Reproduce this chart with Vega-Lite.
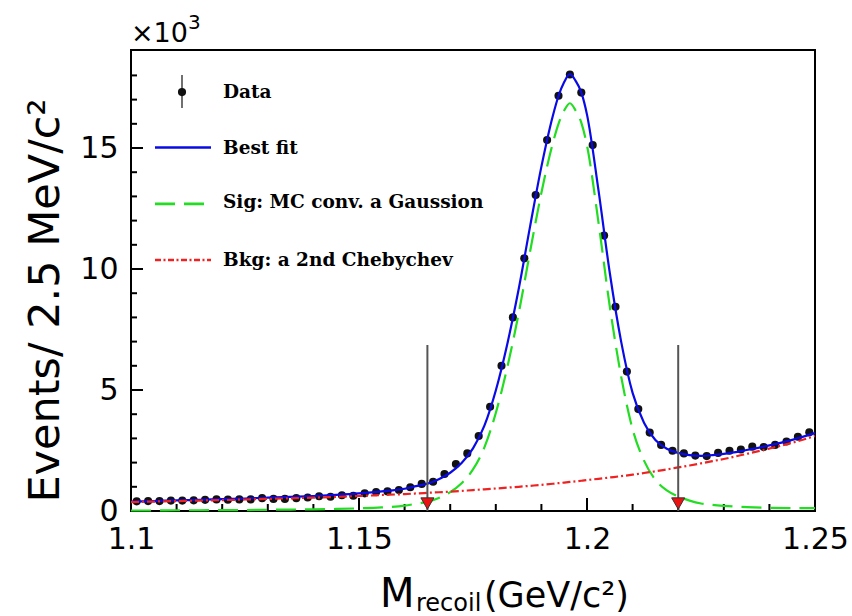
{
  "$schema": "https://vega.github.io/schema/vega-lite/v6.json",
  "width": 684,
  "height": 461,
  "autosize": "none",
  "padding": {"left": 131, "top": 50, "right": 37, "bottom": 105},
  "background": "white",
  "config": {
    "view": {"stroke": "black", "strokeWidth": 2},
    "axis": {"grid": false, "labelOverlap": false, "labelColor": "black", "labelFont": "DejaVu Sans", "titleFont": "DejaVu Sans", "titleColor": "black"}
  },
  "datasets": {
    "points": [
      {"m": 1.10125, "n": 0.40}, {"m": 1.10375, "n": 0.41}, {"m": 1.10625, "n": 0.41}, {"m": 1.10875, "n": 0.43},
      {"m": 1.11125, "n": 0.43}, {"m": 1.11375, "n": 0.44}, {"m": 1.11625, "n": 0.46}, {"m": 1.11875, "n": 0.48},
      {"m": 1.12125, "n": 0.47}, {"m": 1.12375, "n": 0.48}, {"m": 1.12625, "n": 0.48}, {"m": 1.12875, "n": 0.53},
      {"m": 1.13125, "n": 0.50}, {"m": 1.13375, "n": 0.50}, {"m": 1.13625, "n": 0.53}, {"m": 1.13875, "n": 0.56},
      {"m": 1.14125, "n": 0.61}, {"m": 1.14375, "n": 0.59}, {"m": 1.14625, "n": 0.65}, {"m": 1.14875, "n": 0.63},
      {"m": 1.15125, "n": 0.73}, {"m": 1.15375, "n": 0.78}, {"m": 1.15625, "n": 0.81}, {"m": 1.15875, "n": 0.87},
      {"m": 1.16125, "n": 0.98}, {"m": 1.16375, "n": 1.12}, {"m": 1.16625, "n": 1.21}, {"m": 1.16875, "n": 1.53},
      {"m": 1.17125, "n": 1.94}, {"m": 1.17375, "n": 2.38}, {"m": 1.17625, "n": 3.10}, {"m": 1.17875, "n": 4.31},
      {"m": 1.18125, "n": 6.00}, {"m": 1.18375, "n": 8.00}, {"m": 1.18625, "n": 10.44}, {"m": 1.18875, "n": 13.06},
      {"m": 1.19125, "n": 15.33}, {"m": 1.19375, "n": 17.16}, {"m": 1.19625, "n": 18.04}, {"m": 1.19875, "n": 17.29},
      {"m": 1.20125, "n": 15.12}, {"m": 1.20375, "n": 11.38}, {"m": 1.20625, "n": 8.44}, {"m": 1.20875, "n": 5.76},
      {"m": 1.21125, "n": 4.21}, {"m": 1.21375, "n": 3.24}, {"m": 1.21625, "n": 2.73}, {"m": 1.21875, "n": 2.49},
      {"m": 1.22125, "n": 2.38}, {"m": 1.22375, "n": 2.29}, {"m": 1.22625, "n": 2.27}, {"m": 1.22875, "n": 2.40},
      {"m": 1.23125, "n": 2.49}, {"m": 1.23375, "n": 2.54}, {"m": 1.23625, "n": 2.66}, {"m": 1.23875, "n": 2.64},
      {"m": 1.24125, "n": 2.73}, {"m": 1.24375, "n": 2.87}, {"m": 1.24625, "n": 3.07}, {"m": 1.24875, "n": 3.25}
    ],
    "curves": [
      {"m": 1.100, "fit": 0.39, "sig": 0.02, "bkg": 0.37},
      {"m": 1.105, "fit": 0.41, "sig": 0.02, "bkg": 0.39},
      {"m": 1.110, "fit": 0.44, "sig": 0.03, "bkg": 0.41},
      {"m": 1.115, "fit": 0.46, "sig": 0.03, "bkg": 0.43},
      {"m": 1.120, "fit": 0.49, "sig": 0.04, "bkg": 0.45},
      {"m": 1.125, "fit": 0.515, "sig": 0.04, "bkg": 0.475},
      {"m": 1.130, "fit": 0.55, "sig": 0.05, "bkg": 0.50},
      {"m": 1.135, "fit": 0.585, "sig": 0.06, "bkg": 0.525},
      {"m": 1.140, "fit": 0.62, "sig": 0.07, "bkg": 0.55},
      {"m": 1.145, "fit": 0.67, "sig": 0.085, "bkg": 0.585},
      {"m": 1.150, "fit": 0.73, "sig": 0.11, "bkg": 0.62},
      {"m": 1.155, "fit": 0.81, "sig": 0.15, "bkg": 0.66},
      {"m": 1.160, "fit": 0.92, "sig": 0.22, "bkg": 0.70},
      {"m": 1.1625, "fit": 1.025, "sig": 0.30, "bkg": 0.725},
      {"m": 1.165, "fit": 1.13, "sig": 0.38, "bkg": 0.75},
      {"m": 1.1675, "fit": 1.315, "sig": 0.54, "bkg": 0.775},
      {"m": 1.170, "fit": 1.58, "sig": 0.78, "bkg": 0.80},
      {"m": 1.1725, "fit": 1.98, "sig": 1.15, "bkg": 0.83},
      {"m": 1.175, "fit": 2.585, "sig": 1.72, "bkg": 0.865},
      {"m": 1.1775, "fit": 3.525, "sig": 2.63, "bkg": 0.895},
      {"m": 1.180, "fit": 4.98, "sig": 4.05, "bkg": 0.93},
      {"m": 1.1825, "fit": 6.885, "sig": 5.92, "bkg": 0.965},
      {"m": 1.185, "fit": 9.15, "sig": 8.15, "bkg": 1.00},
      {"m": 1.1875, "fit": 11.74, "sig": 10.7, "bkg": 1.04},
      {"m": 1.190, "fit": 14.23, "sig": 13.15, "bkg": 1.08},
      {"m": 1.1925, "fit": 16.325, "sig": 15.2, "bkg": 1.125},
      {"m": 1.19375, "fit": 17.15, "sig": 16.0, "bkg": 1.15},
      {"m": 1.195, "fit": 17.725, "sig": 16.55, "bkg": 1.175},
      {"m": 1.19625, "fit": 18.05, "sig": 16.85, "bkg": 1.20},
      {"m": 1.1975, "fit": 17.775, "sig": 16.55, "bkg": 1.225},
      {"m": 1.19875, "fit": 17.30, "sig": 16.05, "bkg": 1.25},
      {"m": 1.200, "fit": 16.38, "sig": 15.1, "bkg": 1.28},
      {"m": 1.2025, "fit": 13.28, "sig": 11.95, "bkg": 1.33},
      {"m": 1.205, "fit": 9.835, "sig": 8.45, "bkg": 1.385},
      {"m": 1.2075, "fit": 6.99, "sig": 5.55, "bkg": 1.44},
      {"m": 1.210, "fit": 4.88, "sig": 3.38, "bkg": 1.50},
      {"m": 1.2125, "fit": 3.65, "sig": 2.08, "bkg": 1.57},
      {"m": 1.215, "fit": 2.93, "sig": 1.29, "bkg": 1.64},
      {"m": 1.2175, "fit": 2.57, "sig": 0.85, "bkg": 1.72},
      {"m": 1.220, "fit": 2.40, "sig": 0.60, "bkg": 1.80},
      {"m": 1.2225, "fit": 2.31, "sig": 0.43, "bkg": 1.88},
      {"m": 1.225, "fit": 2.28, "sig": 0.31, "bkg": 1.97},
      {"m": 1.2275, "fit": 2.31, "sig": 0.25, "bkg": 2.06},
      {"m": 1.230, "fit": 2.36, "sig": 0.21, "bkg": 2.15},
      {"m": 1.235, "fit": 2.52, "sig": 0.16, "bkg": 2.36},
      {"m": 1.240, "fit": 2.71, "sig": 0.13, "bkg": 2.58},
      {"m": 1.245, "fit": 2.94, "sig": 0.12, "bkg": 2.82},
      {"m": 1.250, "fit": 3.22, "sig": 0.12, "bkg": 3.10}
    ],
    "cuts": [{"m": 1.165}, {"m": 1.22}],
    "xmajor": [{"t": 1.15}, {"t": 1.2}],
    "xminor": [{"t": 1.11}, {"t": 1.12}, {"t": 1.13}, {"t": 1.14}, {"t": 1.16}, {"t": 1.17}, {"t": 1.18}, {"t": 1.19}, {"t": 1.21}, {"t": 1.22}, {"t": 1.23}, {"t": 1.24}],
    "ymajor": [{"t": 5}, {"t": 10}, {"t": 15}],
    "yminor": [{"t": 1}, {"t": 2}, {"t": 3}, {"t": 4}, {"t": 6}, {"t": 7}, {"t": 8}, {"t": 9}, {"t": 11}, {"t": 12}, {"t": 13}, {"t": 14}, {"t": 16}, {"t": 17}, {"t": 18}],
    "one": [{}]
  },
  "layer": [
    {
      "description": "data points, carrying the labelled axes",
      "data": {"name": "points"},
      "mark": {"type": "point", "shape": "circle", "filled": true, "color": "#111111", "size": 66, "opacity": 1},
      "encoding": {
        "x": {"field": "m", "type": "quantitative",
              "scale": {"domain": [1.1, 1.25], "nice": false, "zero": false},
              "axis": {
                "orient": "bottom", "values": [1.1, 1.15, 1.2, 1.25], "format": "~g",
                "ticks": false, "labelFontSize": 30, "labelPadding": 13, "labelFlush": false, "labelOverlap": false,
                "domain": false, "title": null}},
        "y": {"field": "n", "type": "quantitative",
              "scale": {"domain": [0, 19.05], "nice": false, "zero": true},
              "axis": {
                "orient": "left", "values": [0, 5, 10, 15], "format": "~g",
                "ticks": false, "labelFontSize": 30, "labelPadding": 13, "labelOverlap": false,
                "domain": false,
                "title": "Events/ 2.5 MeV/c²", "titleFontSize": 43, "titleFontWeight": "normal", "titlePadding": 12, "titleY": 250}}
      }
    },
    {
      "description": "inward major ticks on the x axis",
      "data": {"name": "xmajor"},
      "mark": {"type": "rule", "color": "black", "strokeWidth": 2},
      "encoding": {"x": {"field": "t", "type": "quantitative"}, "y": {"datum": 0}, "y2": {"datum": 0.537}}
    },
    {
      "description": "inward minor ticks on the x axis",
      "data": {"name": "xminor"},
      "mark": {"type": "rule", "color": "black", "strokeWidth": 2},
      "encoding": {"x": {"field": "t", "type": "quantitative"}, "y": {"datum": 0}, "y2": {"datum": 0.289}}
    },
    {
      "description": "inward major ticks on the y axis",
      "data": {"name": "ymajor"},
      "mark": {"type": "rule", "color": "black", "strokeWidth": 2},
      "encoding": {"y": {"field": "t", "type": "quantitative"}, "x": {"datum": 1.1}, "x2": {"datum": 1.102632}}
    },
    {
      "description": "inward minor ticks on the y axis",
      "data": {"name": "yminor"},
      "mark": {"type": "rule", "color": "black", "strokeWidth": 2},
      "encoding": {"y": {"field": "t", "type": "quantitative"}, "x": {"datum": 1.1}, "x2": {"datum": 1.101316}}
    },
    {
      "data": {"name": "curves"},
      "mark": {"type": "line", "color": "#0a0ae6", "strokeWidth": 2.2, "interpolate": "monotone"},
      "encoding": {
        "x": {"field": "m", "type": "quantitative"},
        "y": {"field": "fit", "type": "quantitative"}
      }
    },
    {
      "data": {"name": "curves"},
      "mark": {"type": "line", "color": "#22dd22", "strokeWidth": 2.2, "strokeDash": [20, 9], "interpolate": "monotone"},
      "encoding": {
        "x": {"field": "m", "type": "quantitative"},
        "y": {"field": "sig", "type": "quantitative"}
      }
    },
    {
      "data": {"name": "curves"},
      "mark": {"type": "line", "color": "#ee2222", "strokeWidth": 2.2, "strokeDash": [8, 3, 2, 3], "interpolate": "monotone"},
      "encoding": {
        "x": {"field": "m", "type": "quantitative"},
        "y": {"field": "bkg", "type": "quantitative"}
      }
    },
    {
      "data": {"name": "cuts"},
      "mark": {"type": "rule", "color": "#555555", "strokeWidth": 2},
      "encoding": {
        "x": {"field": "m", "type": "quantitative"},
        "y": {"datum": 0},
        "y2": {"datum": 6.86}
      }
    },
    {
      "data": {"name": "cuts"},
      "mark": {"type": "point", "shape": "triangle-down", "filled": true, "fill": "#ee1111", "stroke": "#333333", "strokeWidth": 1, "size": 170, "opacity": 1},
      "encoding": {
        "x": {"field": "m", "type": "quantitative"},
        "y": {"datum": 0.31}
      }
    },
    {
      "data": {"name": "one"},
      "mark": {"type": "rule", "color": "#111111", "strokeWidth": 1.2},
      "encoding": {"x": {"datum": 1.111184}, "y": {"datum": 16.65}, "y2": {"datum": 18.02}}
    },
    {
      "data": {"name": "one"},
      "mark": {"type": "point", "shape": "circle", "filled": true, "color": "#111111", "size": 66, "opacity": 1},
      "encoding": {"x": {"datum": 1.111184}, "y": {"datum": 17.31}}
    },
    {
      "data": {"name": "one"},
      "mark": {"type": "rule", "color": "#0a0ae6", "strokeWidth": 2.6},
      "encoding": {"x": {"datum": 1.105263}, "x2": {"datum": 1.117544}, "y": {"datum": 15.02}}
    },
    {
      "data": {"name": "one"},
      "mark": {"type": "rule", "color": "#22dd22", "strokeWidth": 2.6, "strokeDash": [20, 9]},
      "encoding": {"x": {"datum": 1.105263}, "x2": {"datum": 1.117544}, "y": {"datum": 12.69}}
    },
    {
      "data": {"name": "one"},
      "mark": {"type": "rule", "color": "#ee2222", "strokeWidth": 2.6, "strokeDash": [6, 2.5, 2, 2.5]},
      "encoding": {"x": {"datum": 1.105263}, "x2": {"datum": 1.117544}, "y": {"datum": 10.37}}
    },
    {
      "data": {"name": "one"},
      "mark": {"type": "text", "text": "Data", "font": "DejaVu Serif", "fontWeight": "bold", "fontSize": 18.5, "align": "left", "baseline": "middle", "color": "black"},
      "encoding": {"x": {"datum": 1.120175}, "y": {"datum": 17.33}}
    },
    {
      "data": {"name": "one"},
      "mark": {"type": "text", "text": "Best fit", "font": "DejaVu Serif", "fontWeight": "bold", "fontSize": 18.5, "align": "left", "baseline": "middle", "color": "black"},
      "encoding": {"x": {"datum": 1.120175}, "y": {"datum": 15.0}}
    },
    {
      "data": {"name": "one"},
      "mark": {"type": "text", "text": "Sig: MC conv. a Gaussion", "font": "DejaVu Serif", "fontWeight": "bold", "fontSize": 18.5, "align": "left", "baseline": "middle", "color": "black"},
      "encoding": {"x": {"datum": 1.120175}, "y": {"datum": 12.75}}
    },
    {
      "data": {"name": "one"},
      "mark": {"type": "text", "text": "Bkg: a 2nd Chebychev", "font": "DejaVu Serif", "fontWeight": "bold", "fontSize": 18.5, "align": "left", "baseline": "middle", "color": "black"},
      "encoding": {"x": {"datum": 1.120175}, "y": {"datum": 10.39}}
    },
    {
      "data": {"name": "one"},
      "mark": {"type": "text", "text": "×10", "font": "DejaVu Sans", "fontSize": 27, "align": "left", "baseline": "alphabetic", "dy": -8, "color": "black"},
      "encoding": {"x": {"datum": 1.1}, "y": {"datum": 19.05}}
    },
    {
      "data": {"name": "one"},
      "mark": {"type": "text", "text": "3", "font": "DejaVu Sans", "fontSize": 20, "align": "left", "baseline": "alphabetic", "dx": 57, "dy": -21, "color": "black"},
      "encoding": {"x": {"datum": 1.1}, "y": {"datum": 19.05}}
    },
    {
      "data": {"name": "one"},
      "mark": {"type": "text", "text": "M", "font": "DejaVu Sans", "fontSize": 40, "align": "left", "baseline": "alphabetic", "dy": 96, "color": "black"},
      "encoding": {"x": {"datum": 1.1546}, "y": {"datum": 0}}
    },
    {
      "data": {"name": "one"},
      "mark": {"type": "text", "text": "recoil", "font": "DejaVu Sans", "fontSize": 24, "align": "left", "baseline": "alphabetic", "dy": 100, "color": "black"},
      "encoding": {"x": {"datum": 1.1625}, "y": {"datum": 0}}
    },
    {
      "data": {"name": "one"},
      "mark": {"type": "text", "text": "(GeV/c²)", "font": "DejaVu Sans", "fontSize": 35, "align": "left", "baseline": "alphabetic", "dy": 96, "color": "black"},
      "encoding": {"x": {"datum": 1.1774}, "y": {"datum": 0}}
    }
  ]
}
